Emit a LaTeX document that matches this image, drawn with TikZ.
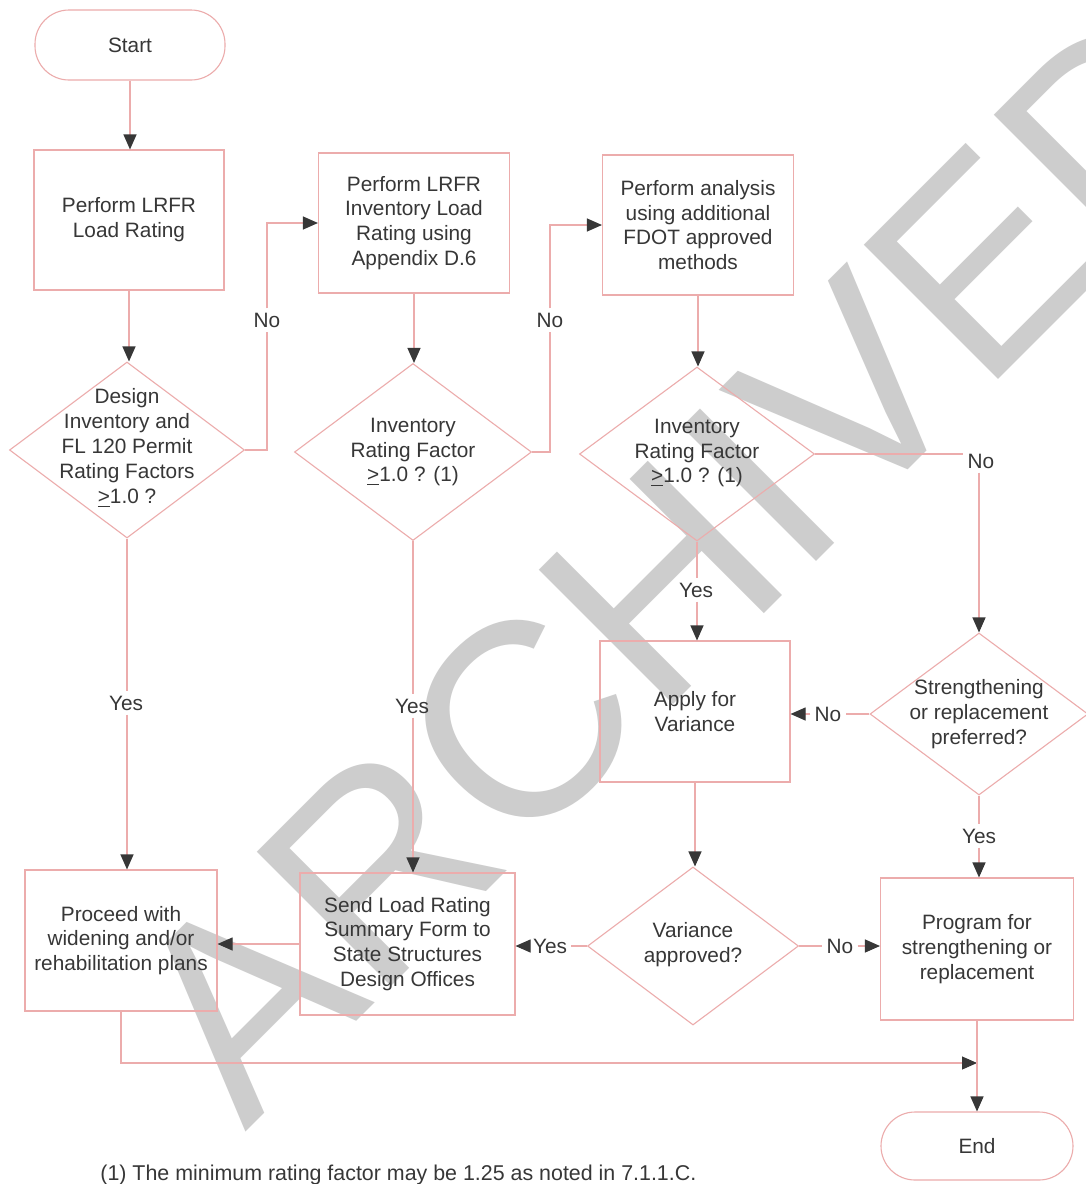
\documentclass[tikz,border=0pt]{standalone}
\usepackage{fontspec}
\setmainfont{Liberation Sans}
\usetikzlibrary{arrows.meta,shapes.geometric}
\definecolor{lnc}{RGB}{236,172,172}
\definecolor{txc}{RGB}{55,55,55}
\definecolor{wmc}{RGB}{205,205,205}
\begin{document}
\begin{tikzpicture}[x=0.5pt,y=-0.5pt,
  every node/.style={text=txc, font=\fontsize{10.4}{12.4}\selectfont},
  box/.style={draw=lnc, line width=0.55pt, rectangle, align=center, inner sep=0pt},
  term/.style={draw=lnc, line width=0.55pt, rectangle, rounded corners=17pt, inner sep=0pt},
  dia/.style={draw=lnc, line width=0.55pt, diamond, inner sep=0pt},
  dtext/.style={align=center, inner sep=0pt},
  lab/.style={inner sep=2pt},
  lnk/.style={draw=lnc, line width=0.55pt},
  arr/.style={lnk, -{Triangle[length=7.5pt,width=6.5pt,color=txc,fill=txc]}}
]
\useasboundingbox (0,0) rectangle (1086,1184);
\fill[white] (0,0) rectangle (1086,1184);

% watermark
\begin{scope}
\clip (0,0) rectangle (1086,1184);
\node[rotate=45, anchor=base west, inner sep=0pt, text=wmc,
      font=\fontsize{138}{142}\selectfont] (wm) at (245,1133) {ARCHIVED};
\end{scope}

% nodes
\node[term, minimum width=95pt, minimum height=35pt] (start) at (130,45) {Start};
\node[box, minimum width=95pt, minimum height=70pt] (b1) at (129,220) {Perform LRFR\\Load Rating};
\node[dia, minimum width=117.5pt, minimum height=88pt] (d1) at (127,450) {};
\node[dtext] (d1t) at (127,448) {Design\\Inventory and\\FL 120 Permit\\Rating Factors\\\underline{>}1.0 ?};

\node[box, minimum width=95.5pt, minimum height=70pt] (b2) at (414,223) {Perform LRFR\\Inventory Load\\Rating using\\Appendix D.6};
\node[dia, minimum width=118.5pt, minimum height=88.5pt] (d2) at (413,452) {};
\node[dtext] (d2t) at (413,452) {Inventory\\Rating Factor\\\underline{>}1.0 ? (1)};

\node[box, minimum width=95.5pt, minimum height=70pt] (b3) at (698,225) {Perform analysis\\using additional\\FDOT approved\\methods};
\node[dia, minimum width=117.5pt, minimum height=87pt] (d3) at (697,454) {};
\node[dtext] (d3t) at (697,453) {Inventory\\Rating Factor\\\underline{>}1.0 ? (1)};

\node[box, minimum width=95pt, minimum height=70.5pt] (b4) at (695,711.5) {Apply for\\Variance};
\node[dia, minimum width=109pt, minimum height=81pt] (d4) at (979,714) {};
\node[dtext] (d4t) at (979,714) {Strengthening\\or replacement\\preferred?};

\node[dia, minimum width=105.5pt, minimum height=79pt] (d5) at (693,946) {};
\node[dtext] (d5t) at (693,945) {Variance\\approved?};
\node[box, minimum width=107.5pt, minimum height=71pt] (b5) at (407.5,944) {Send Load Rating\\Summary Form to\\State Structures\\Design Offices};
\node[box, minimum width=96pt, minimum height=70.5pt] (b7) at (121,940.5) {Proceed with\\widening and/or\\rehabilitation plans};
\node[box, minimum width=96.5pt, minimum height=71pt] (b6) at (977,949) {Program for\\strengthening or\\replacement};
\node[term, minimum width=96pt, minimum height=34pt] (end) at (977,1146) {End};

% connector labels
\node[lab] (no1) at (267,320) {No};
\node[lab] (no2) at (550,320) {No};
\node[lab] (no3) at (981,461) {No};
\node[lab] (yes1) at (126,703) {Yes};
\node[lab] (yes2) at (412,706) {Yes};
\node[lab] (yes3) at (696,590) {Yes};
\node[lab] (no4) at (828,714) {No};
\node[lab] (yes4) at (979,836) {Yes};
\node[lab] (no5) at (840,946) {No};
\node[lab] (yes5) at (550,946) {Yes};
\coordinate (m) at (977,1063);

% connectors
\draw[arr] (start.south) -- (start.south |- b1.north);
\draw[arr] (b1.south) -- (b1.south |- d1.north);
\draw[lnk] (d1.east) -| (no1.south);
\draw[arr] (no1.north) |- (b2.west);
\draw[lnk] (d1.south) -- (d1.south |- yes1.north);
\draw[arr] (yes1.south -| d1.south) -- (d1.south |- b7.north);

\draw[arr] (b2.south) -- (b2.south |- d2.north);
\draw[lnk] (d2.east) -| (no2.south);
\draw[arr] (no2.north) |- (b3.west);
\draw[lnk] (d2.south) -- (d2.south |- yes2.north);
\draw[arr] (yes2.south -| d2.south) -- (d2.south |- b5.north);

\draw[arr] (b3.south) -- (b3.south |- d3.north);
\draw[lnk] (d3.east) -- (d3.east -| no3.west);
\draw[arr] (no3.south -| d4.north) -- (d4.north);
\draw[lnk] (d3.south) -- (d3.south |- yes3.north);
\draw[arr] (yes3.south -| d3.south) -- (d3.south |- b4.north);

\draw[lnk] (d4.west) -- (no4.east);
\draw[arr] (no4.west) -- (no4.west -| b4.east);
\draw[lnk] (d4.south) -- (d4.south |- yes4.north);
\draw[arr] (yes4.south -| d4.south) -- (d4.south |- b6.north);

\draw[arr] (b4.south) -- (b4.south |- d5.north);
\draw[lnk] (d5.east) -- (no5.west);
\draw[arr] (no5.east) -- (no5.east -| b6.west);
\draw[lnk] (d5.west) -- (yes5.east);
\draw[arr] (yes5.west) -- (yes5.west -| b5.east);
\draw[arr] (b5.west) -- (b5.west -| b7.east);

\draw[arr] (b7.south) |- (m);
\draw[arr] (b6.south) -- (b6.south |- end.north);

% footnote
\node[anchor=base west, inner sep=0pt, font=\fontsize{10.7}{12.8}\selectfont] (fn) at (100,1180) {(1) The minimum rating factor may be 1.25 as noted in 7.1.1.C.};
\end{tikzpicture}
\end{document}
